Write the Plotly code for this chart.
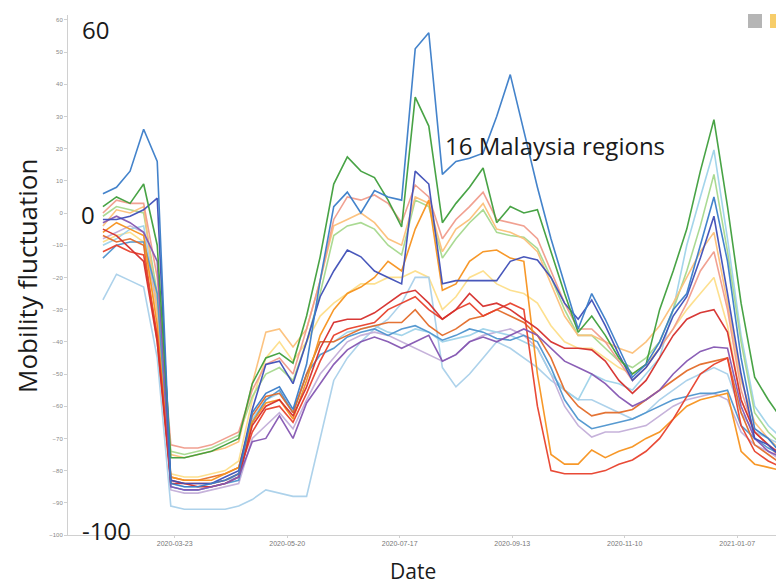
import plotly.graph_objects as go
import pandas as pd

# Weekly observation dates
dates = pd.date_range("2020-02-15", periods=51, freq="7D")

blue = [6, 8, 13, 26, 16,
        -84, -85, -85, -84, -83, -81,
        -62, -56, -54, -61, -47, -21,
        2, 6.5, 0, 7, 5,
        4, 51, 56, 12,
        16, 17, 18.6, 30, 43, 25,
        8, -8, -22, -36,
        -25, -33, -42, -51, -47,
        -40, -30, -25, -10, 5,
        -15, -45, -67, -70, -75]
green = [2, 5, 3, 9, -10,
         -76, -76, -75, -74, -72, -70,
         -53, -45, -43.5, -46.6, -32, -13.6,
         9, 17.4, 13, 11, 4,
         -4.3, 36, 27, -3,
         3, 8, 14, -3, 2, 0,
         1, -12, -25, -37,
         -32, -38, -45, -50, -47,
         -30, -18, -5, 13, 29,
         2, -28, -51, -58, -64]
navy = [-2, -2, -1, 1, 4.6,
        -83, -84, -84, -84, -82, -80,
        -61, -47, -46, -53, -40, -26,
        -18, -11.5, -13.6, -18, -20,
        -22, 13, 9, -22,
        -21, -21, -21, -21, -15, -13.6,
        -14.6, -20, -28, -33,
        -27, -35, -44, -52, -48,
        -42, -32, -26, -14, -1,
        -25, -50, -70, -72, -76]
pink = [0, 4, 3, 3, -20,
        -72, -73, -73, -72, -70, -68,
        -55, -47, -45, -50, -36, -21,
        -2, 5, 4, 5.6, 3,
        -3, 8.7, 5, -8,
        -2, 2, 6.5, -2, -3, -4,
        -8, -18, -28, -36,
        -36, -40, -46, -52, -48,
        -42, -36, -28, -18, -12,
        -30, -55, -68, -72, -77]
light_green = [-1, 2, 1, 0, -25,
               -74, -75, -74, -73, -71, -69,
               -57, -50, -48, -52, -40, -25,
               -7, -4, -3, -5, -10,
               -13, 4, 2, -14,
               -8, -3, 1, -6, -7, -7.5,
               -11, -20, -30, -38,
               -38, -42, -46, -48, -45,
               -40, -30, -18, -4, 12,
               -12, -40, -62, -68, -72]
purple = [-3, -1, -3, -6, -15,
          -85, -86, -86, -85, -84, -82,
          -71, -70, -63, -70, -59, -53,
          -47, -42.5, -40, -38.5, -40,
          -42, -40, -38, -46,
          -44, -40, -38.5, -40, -38, -36,
          -38, -42, -46, -48,
          -50, -53, -57, -60, -58,
          -55, -50, -46, -43, -41.6,
          -42, -60, -70, -74, -76]
orange = [-6, -3, -5, -7, -35,
          -82, -83, -83, -83, -81, -79,
          -65, -59, -58, -64, -52, -38,
          -30, -25, -23, -20, -15,
          -18, -5, 4, -24,
          -22, -15, -12, -11.5, -14, -15,
          -50, -75, -78, -78,
          -73.6, -76, -74, -72.6, -70,
          -68, -64, -60, -58, -57,
          -56, -74, -78, -79, -80]
red = [-5, -7, -11, -15, -40,
       -84, -84, -85, -85, -84, -82,
       -66, -60, -58, -63, -54, -42,
       -34, -33, -33, -31, -28,
       -25, -24, -28, -33,
       -30, -25, -29, -28, -30, -33,
       -36, -40, -42, -42,
       -42.5, -46, -52, -56, -52,
       -45, -38, -33, -31, -30,
       -37, -58, -68, -72, -75]
red2 = [-12, -10, -12, -13, -38,
        -83, -84, -84, -84, -83, -81,
        -68, -61, -60, -65, -56, -46,
        -38, -36, -35, -34, -30,
        -28, -26, -30, -33,
        -30, -28, -32, -30, -28, -30,
        -60, -80, -81, -81,
        -81, -80, -78, -76.7, -74,
        -70, -64, -57, -50, -47,
        -45, -66, -74, -77, -79]
light_blue = [-27, -19, -21, -23, -45,
              -91, -92, -92, -92, -92, -91,
              -89, -86, -87, -88, -88, -70,
              -52, -45, -40, -36, -33,
              -28, -20, -20, -48,
              -54, -50, -45, -40, -42, -45,
              -48, -52, -55, -58,
              -58, -60, -62, -64, -62,
              -58, -55, -52, -50, -48,
              -50, -62, -68, -70, -72]
light_purple = [-8, -6, -4, -6, -30,
                -86, -87, -87, -86, -85, -84,
                -70, -66, -62, -67, -58, -50,
                -45, -40, -38, -37, -38,
                -40, -42, -44, -46,
                -44, -40, -38, -37, -36, -38,
                -42, -50, -60, -66,
                -69.6, -68, -68, -67, -66,
                -63, -60, -58, -57, -56,
                -58, -68, -72, -74, -77]
blue2 = [-14, -10, -9, -9, -25,
         -85, -86, -86, -85, -84, -83,
         -65, -58, -55, -62, -50, -44,
         -42, -38.5, -37, -36, -38,
         -36, -35, -37, -39.5,
         -38, -36, -37, -39, -39.5, -38,
         -40, -48, -58, -64,
         -67, -66, -65, -64, -62,
         -60, -58, -57, -56, -56,
         -55, -66, -70, -73, -75]
orange_brown = [-7, -9, -8, -10, -40,
                -82, -83, -83, -82, -81, -79,
                -63, -57, -56, -62, -50, -40,
                -40, -38, -36, -35, -34,
                -34, -30, -35, -38,
                -36, -33, -32, -30, -32, -34,
                -38, -45, -55, -60,
                -63, -62, -62, -61, -58,
                -55, -52, -49, -47, -46,
                -45, -62, -72, -75, -78]
light_orange = [-4, 1, 0, 2, -30,
                -75, -76, -75, -74, -73, -71,
                -53, -37, -36, -41.6, -36, -21,
                -4, -2, 0, -3, -8,
                -10, 5, 3, -12,
                -5, -2, 3, -5, -6, -8,
                -12, -22, -32, -38,
                -38, -40, -42, -43.5, -40,
                -35, -28, -20, -12, -6,
                -28, -52, -65, -70, -74]
light_yellow = [-9, -7, -6, -9, -32,
                -81, -82, -82, -81, -80, -77,
                -58, -45, -40, -46, -40, -32,
                -28, -25, -22, -22, -20,
                -20, -18, -20, -30,
                -26, -20, -18, -22, -24, -25,
                -28, -35, -40, -42,
                -42, -45, -48, -50, -47,
                -42, -36, -30, -25, -20,
                -35, -58, -68, -72, -76]
sky = [-10, -8, -5, -4, -28,
       -84, -85, -85, -84, -83, -82,
       -64, -58, -56, -62, -50, -40,
       -40, -37, -36, -35, -37,
       -38, -36, -37, -40,
       -39, -38, -36, -37, -38, -40,
       -42, -50, -55, -58,
       -50, -52, -53, -55, -50,
       -45, -30, -10, 5, 19.6,
       -8, -38, -60, -66, -70]

series = [
    ("light_yellow", light_yellow, "#fddf8a"),
    ("light_blue", light_blue, "#a9d0ea"),
    ("light_purple", light_purple, "#c3aed9"),
    ("sky", sky, "#9fd3ea"),
    ("light_green", light_green, "#a6d98e"),
    ("light_orange", light_orange, "#fcc07a"),
    ("pink", pink, "#f19c8c"),
    ("blue2", blue2, "#4f95cf"),
    ("orange_brown", orange_brown, "#e36c2a"),
    ("orange", orange, "#f7931e"),
    ("red2", red2, "#e8412c"),
    ("red", red, "#d62f2c"),
    ("purple", purple, "#8557b3"),
    ("navy", navy, "#3f4fb8"),
    ("green", green, "#3f9f3c"),
    ("blue", blue, "#3a7dc9"),
]

tick_dates = ["2020-03-23", "2020-05-20", "2020-07-17", "2020-09-13", "2020-11-10", "2021-01-07"]

fig = go.Figure()
for name, vals, col in series:
    fig.add_trace(go.Scatter(x=dates, y=vals, mode="lines", name=name,
                             line=dict(color=col, width=1.6), opacity=0.95))

# plot area at window x 68..776 and y 15..535 (page body margin removed below)
W, H = 776, 586
L, R, T, B = 68, 0, 15, 51
pw, ph = W - L - R, H - T - B

def px(x):
    return (x - L) / pw

def py(y):
    return (H - B - y) / ph

font_main = "Open Sans, Lato, sans-serif"
annos = [
    dict(text="60", x=px(95), y=py(29)),
    dict(text="0", x=px(88), y=py(215)),
    dict(text="-100", x=px(106), y=py(530)),
    dict(text="16 Malaysia regions", x=px(555), y=py(145)),
]
for a in annos:
    fig.add_annotation(xref="paper", yref="paper", showarrow=False,
                       xanchor="center", yanchor="middle",
                       font=dict(family=font_main, size=24, color="#1a1a1a"), **a)

fig.add_annotation(text="Date", xref="paper", yref="paper", x=px(413), y=py(571),
                   showarrow=False, xanchor="center", yanchor="middle",
                   font=dict(family=font_main, size=21, color="#1a1a1a"))
fig.add_annotation(text="Mobility fluctuation", xref="paper", yref="paper",
                   x=px(27), y=py(276), textangle=-90, showarrow=False,
                   xanchor="center", yanchor="middle",
                   font=dict(family=font_main, size=26, color="#1a1a1a"))

# small toolbar-like icons at top right
fig.add_shape(type="rect", xref="paper", yref="paper",
              x0=px(748), x1=px(762), y0=py(28), y1=py(14),
              fillcolor="#b5b5b5", line=dict(width=0))
fig.add_shape(type="rect", xref="paper", yref="paper",
              x0=px(770), x1=px(776), y0=py(28), y1=py(14),
              fillcolor="#f7cd6a", line=dict(width=0))

fig.update_layout(
    width=W, height=H,
    margin=dict(l=L, r=R, t=T, b=B),
    paper_bgcolor="white", plot_bgcolor="white",
    showlegend=False,
    xaxis=dict(type="date", range=["2020-01-28", "2021-01-27"],
               tickvals=tick_dates, ticktext=tick_dates,
               showgrid=False, zeroline=False, showline=True,
               linecolor="#d0d0d0", linewidth=1,
               ticks="outside", ticklen=2, tickcolor="#d0d0d0",
               tickfont=dict(family="Liberation Sans, Arial", size=7, color="#777")),
    yaxis=dict(range=[-100, 61.5], tickmode="linear", tick0=-100, dtick=10,
               showgrid=False, zeroline=False, showline=True,
               linecolor="#d0d0d0", linewidth=1,
               ticks="outside", ticklen=3, tickcolor="#d0d0d0",
               tickfont=dict(family="Liberation Sans, Arial", size=6, color="#888")),
)

fig.write_html("out.html", config={"displayModeBar": False},
               post_script="document.body.style.margin='0';document.body.style.overflow='hidden';")
